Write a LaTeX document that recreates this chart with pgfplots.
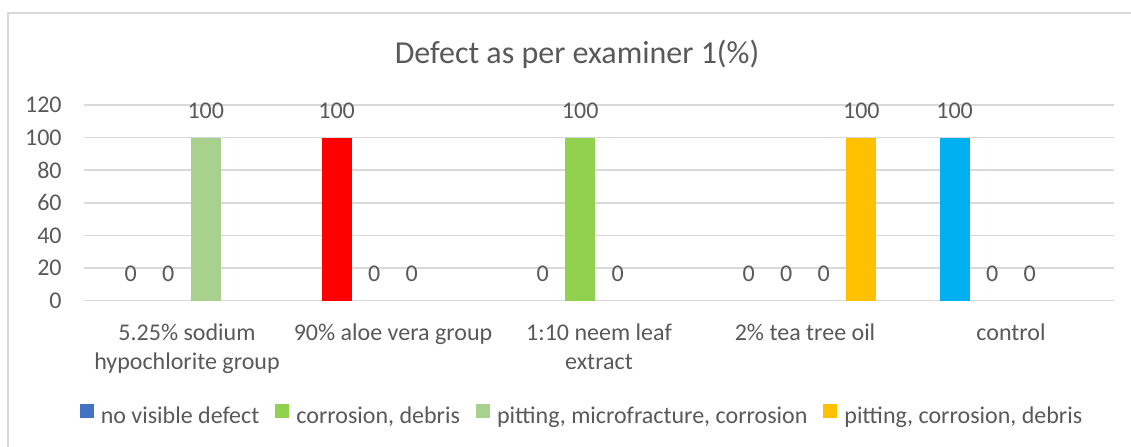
\documentclass[border=0pt]{standalone}
\usepackage{pgfplots}
\pgfplotsset{compat=1.18}
\usepackage{fontspec}
\setmainfont{Carlito}
\definecolor{txt}{HTML}{595959}
\definecolor{gridc}{HTML}{D9D9D9}
\definecolor{sblue}{HTML}{4472C4}
\definecolor{sgreen}{HTML}{92D050}
\definecolor{slgreen}{HTML}{A9D18E}
\definecolor{syellow}{HTML}{FFC000}
\definecolor{sred}{HTML}{FF0000}
\definecolor{scyan}{HTML}{00B0F0}
\begin{document}
\begin{tikzpicture}[x=1pt,y=1pt]
\draw[gridc, line width=0.75pt] (4pt,-20pt) -- (4pt,216.5pt) -- (600pt,216.5pt);
\node[anchor=base, text=txt, font=\fontsize{16}{19}\selectfont, inner sep=0pt] at (288.5pt,191.3pt) {Defect as per examiner 1(\%)};
\begin{axis}[
  at={(42pt,72.65pt)}, anchor=south west,
  scale only axis, width=515pt, height=97.85pt,
  xmin=-0.5, xmax=4.5, ymin=0, ymax=120,
  ytick={0,20,...,120},
  xtick={0,1,2,3,4},
  xticklabels={{5.25\% sodium\\hypochlorite group},{90\% aloe vera group},{1:10 neem leaf\\extract},{2\% tea tree oil},{control}},
  /pgf/number format/assume math mode=true,
  ymajorgrids, grid style={draw=gridc, line width=0.75pt},
  axis x line*=bottom, axis y line*=left,
  x axis line style={draw=gridc, line width=0.75pt, -},
  y axis line style={draw=none},
  major tick length=0pt,
  tick label style={font=\fontsize{12}{14.5}\selectfont, text=txt},
  yticklabel style={inner sep=0pt, xshift=-11pt},
  xticklabel style={align=center, anchor=north, inner sep=0pt, yshift=-11.5pt},
  ybar, bar width=15pt,
  nodes near coords,
  every node near coord/.append style={font=\fontsize{12}{14.5}\selectfont, text=txt, anchor=base, inner sep=0pt, yshift=9.5pt},
  legend style={at={(0.4845,-0.595)}, anchor=center, draw=none, fill=none,
    legend columns=4, font=\fontsize{12}{14.5}\selectfont, text=txt,
    /tikz/every odd column/.append style={column sep=1.5pt},
    /tikz/every even column/.append style={column sep=6pt},
    legend cell align=left},
  legend image code/.code={\fill (0pt,-0.3pt) rectangle (7pt,6.7pt);},
]
% zero-valued bars: labels only
\addplot[fill=none, draw=none, bar shift=-28.2pt, forget plot] coordinates {(0,0) (2,0) (3,0)};
\addplot[fill=none, draw=none, bar shift=-9.4pt, forget plot] coordinates {(0,0) (1,0) (3,0) (4,0)};
\addplot[fill=none, draw=none, bar shift=9.4pt, forget plot] coordinates {(1,0) (2,0) (3,0) (4,0)};
% nonzero bars
\addplot[fill=sred, draw=none, bar shift=-28.2pt, forget plot] coordinates {(1,100)};
\addplot[fill=scyan, draw=none, bar shift=-28.2pt, forget plot] coordinates {(4,100)};
\addplot[fill=sgreen, draw=none, bar shift=-9.4pt, forget plot] coordinates {(2,100)};
\addplot[fill=slgreen, draw=none, bar shift=9.4pt, forget plot] coordinates {(0,100)};
\addplot[fill=syellow, draw=none, bar shift=28.2pt, forget plot] coordinates {(3,100)};
\addlegendimage{fill=sblue, draw=none}
\addlegendentry{no visible defect}
\addlegendimage{fill=sgreen, draw=none}
\addlegendentry{corrosion, debris}
\addlegendimage{fill=slgreen, draw=none}
\addlegendentry{pitting, microfracture, corrosion}
\addlegendimage{fill=syellow, draw=none}
\addlegendentry{pitting, corrosion, debris}
\end{axis}
\pgfresetboundingbox
\path[use as bounding box] (0,0) rectangle (565.5pt,223pt);
\end{tikzpicture}
\end{document}
